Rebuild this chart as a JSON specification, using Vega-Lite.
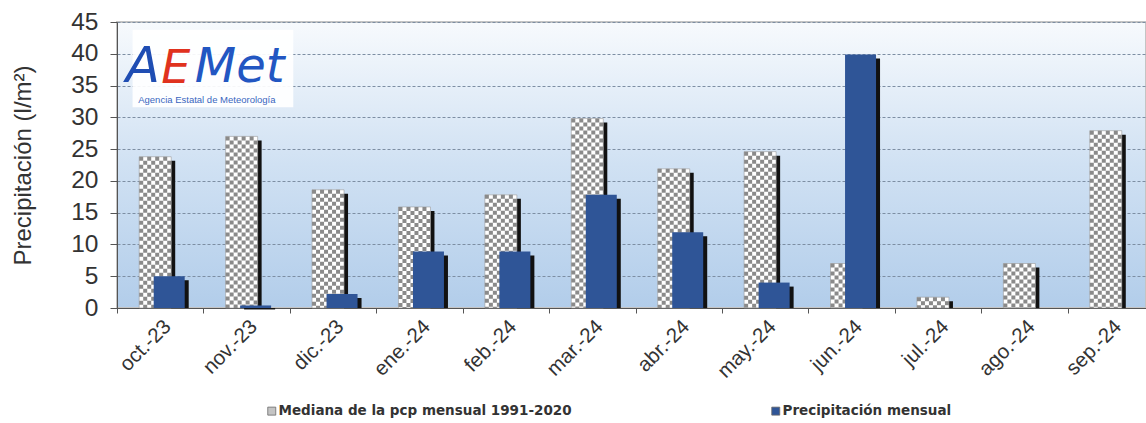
{
  "$schema": "https://vega.github.io/schema/vega-lite/v6.json",
  "autosize": {"type": "none"},
  "padding": {"left": 117, "top": 22, "right": 0, "bottom": 115},
  "width": 1029,
  "height": 286,
  "background": "white",
  "config": {
    "font": "Liberation Sans",
    "view": {
      "stroke": "#c4c4c4",
      "strokeWidth": 2,
      "fill": {"gradient": "linear", "x1": 0, "y1": 0, "x2": 0, "y2": 1,
        "stops": [{"offset": 0, "color": "#f7fafd"}, {"offset": 0.5, "color": "#d0e1f3"}, {"offset": 1, "color": "#b2cdea"}]}
    },
    "axisY": {
      "tickCount": 10,
      "labelOverlap": false,
      "labelFontSize": 24.5, "labelColor": "#333333", "labelPadding": 12,
      "titleFontSize": 24, "titleFontWeight": "normal", "titleColor": "#333333", "titlePadding": 35,
      "domainColor": "#555555", "tickColor": "#555555", "tickSize": 7,
      "gridColor": "#7d8ea3", "gridDash": [3, 2], "gridWidth": 1
    },
    "legend": {
      "orient": "none",
      "legendX": 148,
      "legendY": 382,
      "direction": "horizontal",
      "symbolType": "square",
      "symbolSize": 64,
      "labelFont": "DejaVu Sans",
      "labelFontWeight": "bold",
      "labelFontSize": 13.5,
      "labelColor": "#333333",
      "labelOffset": 0,
      "labelLimit": 0,
      "columnPadding": 197,
      "padding": 0,
      "title": null
    }
  },
  "data": {"values": [
    {"mes": "oct.-23", "mediana": 23.8, "precip": 5.0},
    {"mes": "nov.-23", "mediana": 27.0, "precip": 0.4},
    {"mes": "dic.-23", "mediana": 18.6, "precip": 2.2},
    {"mes": "ene.-24", "mediana": 15.9, "precip": 8.9},
    {"mes": "feb.-24", "mediana": 17.8, "precip": 8.9},
    {"mes": "mar.-24", "mediana": 29.8, "precip": 17.8},
    {"mes": "abr.-24", "mediana": 21.9, "precip": 11.9},
    {"mes": "may.-24", "mediana": 24.6, "precip": 4.0},
    {"mes": "jun.-24", "mediana": 7.0, "precip": 39.9},
    {"mes": "jul.-24", "mediana": 1.7, "precip": 0},
    {"mes": "ago.-24", "mediana": 7.0, "precip": 0},
    {"mes": "sep.-24", "mediana": 27.9, "precip": 0}
  ]},
  "encoding": {
    "x": {
      "field": "mes", "type": "nominal", "sort": null,
      "scale": {"range": [0, 1037], "paddingInner": 0, "paddingOuter": 0},
      "axis": {
        "title": null, "grid": false, "domainColor": "#555555", "tickColor": "#555555",
        "tickSize": 5, "tickBand": "extent", "labelAngle": -45, "labelFontSize": 20.5,
        "labelColor": "#333333", "labelPadding": 3
      }
    }
  },
  "layer": [
    {
      "mark": {"type": "bar", "width": 32, "xOffset": -1, "yOffset": 4, "y2Offset": 0, "fill": "#111111"},
      "encoding": {
        "y": {"field": "mediana", "type": "quantitative",
          "scale": {"domain": [0, 45], "nice": false},
          "axis": {"title": "Precipitación (l/m²)"}
        },
        "y2": {"datum": 0}
      }
    },
    {
      "mark": {"type": "bar", "width": 32, "xOffset": -5, "fill": "#ffffff", "stroke": "#999999", "strokeWidth": 0.6},
      "encoding": {
        "y": {"field": "mediana", "type": "quantitative"},
        "y2": {"datum": 0}
      }
    },
    {"mark": {"type": "rule", "stroke": "#8a8a8a", "strokeWidth": 4, "strokeDash": [4, 4], "strokeDashOffset": 0, "xOffset": -19},
     "encoding": {"y": {"field": "mediana", "type": "quantitative"}, "y2": {"datum": 0}}},
    {"mark": {"type": "rule", "stroke": "#8a8a8a", "strokeWidth": 4, "strokeDash": [4, 4], "strokeDashOffset": 4, "xOffset": -15},
     "encoding": {"y": {"field": "mediana", "type": "quantitative"}, "y2": {"datum": 0}}},
    {"mark": {"type": "rule", "stroke": "#8a8a8a", "strokeWidth": 4, "strokeDash": [4, 4], "strokeDashOffset": 0, "xOffset": -11},
     "encoding": {"y": {"field": "mediana", "type": "quantitative"}, "y2": {"datum": 0}}},
    {"mark": {"type": "rule", "stroke": "#8a8a8a", "strokeWidth": 4, "strokeDash": [4, 4], "strokeDashOffset": 4, "xOffset": -7},
     "encoding": {"y": {"field": "mediana", "type": "quantitative"}, "y2": {"datum": 0}}},
    {"mark": {"type": "rule", "stroke": "#8a8a8a", "strokeWidth": 4, "strokeDash": [4, 4], "strokeDashOffset": 0, "xOffset": -3},
     "encoding": {"y": {"field": "mediana", "type": "quantitative"}, "y2": {"datum": 0}}},
    {"mark": {"type": "rule", "stroke": "#8a8a8a", "strokeWidth": 4, "strokeDash": [4, 4], "strokeDashOffset": 4, "xOffset": 1},
     "encoding": {"y": {"field": "mediana", "type": "quantitative"}, "y2": {"datum": 0}}},
    {"mark": {"type": "rule", "stroke": "#8a8a8a", "strokeWidth": 4, "strokeDash": [4, 4], "strokeDashOffset": 0, "xOffset": 5},
     "encoding": {"y": {"field": "mediana", "type": "quantitative"}, "y2": {"datum": 0}}},
    {"mark": {"type": "rule", "stroke": "#8a8a8a", "strokeWidth": 4, "strokeDash": [4, 4], "strokeDashOffset": 4, "xOffset": 9},
     "encoding": {"y": {"field": "mediana", "type": "quantitative"}, "y2": {"datum": 0}}},
    {
      "mark": {"type": "bar", "width": 32, "xOffset": -5},
      "encoding": {
        "y": {"datum": 0},
        "y2": {"datum": 0},
        "color": {
          "datum": "Mediana de la pcp mensual 1991-2020",
          "scale": {"domain": ["Mediana de la pcp mensual 1991-2020", "Precipitación mensual"], "range": ["#c4c4c4", "#2f5597"]},
          "legend": {
            "encode": {"symbols": {"update": {
              "stroke": {"value": "#6a6a6a"},
              "strokeWidth": {"value": 0.8}
            }}}
          }
        }
      }
    },
    {
      "transform": [{"filter": "datum.precip > 0"}],
      "mark": {"type": "bar", "width": 31, "xOffset": 13, "yOffset": 4, "y2Offset": 0, "fill": "#111111"},
      "encoding": {"y": {"field": "precip", "type": "quantitative"}, "y2": {"datum": 0}}
    },
    {
      "transform": [{"filter": "datum.precip > 0"}],
      "mark": {"type": "bar", "width": 31, "xOffset": 9},
      "encoding": {
        "y": {"field": "precip", "type": "quantitative"},
        "y2": {"datum": 0},
        "color": {"datum": "Precipitación mensual"}
      }
    },
    {
      "data": {"values": [{"logo": "AEMet"}]},
      "mark": {"type": "rect", "fill": "#ffffff", "opacity": 0.92},
      "encoding": {
        "x": {"datum": "oct.-23", "bandPosition": 0.18},
        "x2": {"datum": "dic.-23", "bandPosition": 0.04},
        "y": {"datum": 43.8},
        "y2": {"datum": 31.6}
      }
    },
    {
      "data": {"values": [{"t": "A"}]},
      "mark": {"type": "text", "font": "DejaVu Sans", "fontStyle": "italic", "fontSize": 50, "fill": "#1f4db3", "align": "center", "baseline": "alphabetic"},
      "encoding": {"x": {"datum": "oct.-23", "bandPosition": 0.3}, "y": {"datum": 35.6}, "text": {"field": "t"}}
    },
    {
      "data": {"values": [{"t": "E"}]},
      "mark": {"type": "text", "font": "DejaVu Sans", "fontStyle": "italic", "fontSize": 46, "fill": "#e0321e", "align": "center", "baseline": "alphabetic"},
      "encoding": {"x": {"datum": "oct.-23", "bandPosition": 0.68}, "y": {"datum": 35.4}, "text": {"field": "t"}}
    },
    {
      "data": {"values": [{"t": "Met"}]},
      "mark": {"type": "text", "font": "DejaVu Sans", "fontStyle": "italic", "fontSize": 48, "fill": "#2256c2", "align": "center", "baseline": "alphabetic"},
      "encoding": {"x": {"datum": "nov.-23", "bandPosition": 0.42}, "y": {"datum": 35.6}, "text": {"field": "t"}}
    },
    {
      "data": {"values": [{"t": "Agencia Estatal de Meteorología"}]},
      "mark": {"type": "text", "font": "Liberation Sans", "fontSize": 9.5, "fill": "#3a66c0", "align": "center", "baseline": "middle"},
      "encoding": {"x": {"datum": "nov.-23", "bandPosition": 0.04}, "y": {"datum": 32.7}, "text": {"field": "t"}}
    }
  ]
}
